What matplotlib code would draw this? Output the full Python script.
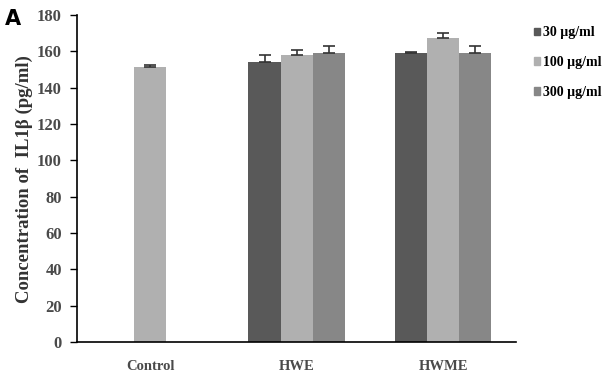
import matplotlib.pyplot as plt
import numpy as np

groups = ['Control', 'HWE', 'HWME']
doses = ['30 µg/ml', '100 µg/ml', '300 µg/ml']
colors = ['#595959', '#b0b0b0', '#878787']

# mean values (pg/ml) and upper error; None = no bar
means = {
    '30 µg/ml':  [None, 154.3, 159.2],
    '100 µg/ml': [151.5, 158.3, 167.5],
    '300 µg/ml': [None, 159.2, 158.9],
}
errs = {
    '30 µg/ml':  [None, 3.7, 0.5],
    '100 µg/ml': [1.0, 2.7, 2.9],
    '300 µg/ml': [None, 3.8, 4.0],
}

plt.rcParams['font.family'] = ['Liberation Serif', 'DejaVu Serif']
fig = plt.figure(figsize=(6.08, 3.78), dpi=100)
ax = fig.add_axes([0.127, 0.095, 0.722, 0.865])

x = np.arange(len(groups))
w = 0.22
for i, d in enumerate(doses):
    for j in range(len(groups)):
        m = means[d][j]
        if m is None:
            continue
        pos = x[j] + (i - 1) * w
        ax.bar(pos, m, w, color=colors[i], edgecolor='none')
        ax.errorbar(pos, m, yerr=[[0], [errs[d][j]]], fmt='none',
                    ecolor='#333333', elinewidth=1.2, capsize=4, capthick=1.2)

ax.set_xlim(-0.5, 2.5)
ax.set_ylim(0, 180)
ax.set_yticks(np.arange(0, 181, 20))
ax.set_xticks(x)
ax.set_xticklabels(groups, fontsize=10.5, fontweight='bold', color='#4a4a4a')
ax.tick_params(axis='x', length=0, pad=13)
ax.tick_params(axis='y', length=5, width=1, labelsize=12, colors='black',
               labelcolor='#4a4a4a', direction='out', pad=6)
for lab in ax.get_yticklabels():
    lab.set_fontweight('bold')
ax.spines['top'].set_visible(False)
ax.spines['right'].set_visible(False)
ax.spines['left'].set_linewidth(1.2)
ax.spines['bottom'].set_linewidth(1.2)
ax.set_ylabel('Concentration of  IL1β (pg/ml)', fontsize=13.5,
              fontweight='bold', color='#333333', labelpad=3)

handles = [plt.Rectangle((0, 0), 1, 1, color=c) for c in colors]
fig.legend(handles, doses, loc='upper left', bbox_to_anchor=(0.857, 0.963),
           frameon=False, handlelength=0.45, handleheight=0.45,
           handletextpad=0.25, labelspacing=1.2,
           prop={'weight': 'bold', 'size': 10})

fig.text(0.008, 0.935, 'A', fontsize=15, fontweight='bold',
         family='DejaVu Sans')

fig.savefig('out.png', dpi=100)
